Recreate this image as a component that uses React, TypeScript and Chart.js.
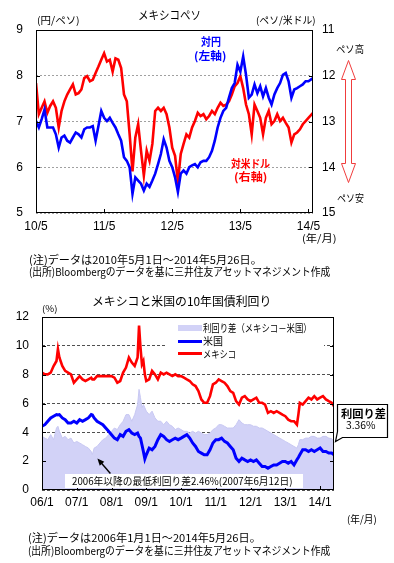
import React, { useEffect, useLayoutEffect, useRef, useState } from "react";
import { Chart, registerables } from "chart.js";
Chart.register(...registerables);

const JP = "'Noto Sans CJK JP', 'Noto Sans', sans-serif";
const TICK_FONT = { family: "'Liberation Sans', 'DejaVu Sans', sans-serif", size: 12 };

// ---------- Chart 1: Mexican peso (months since 2010/5) ----------
const pesoMonths = [0,0.5,1,1.5,2,2.5,3,3.5,4,4.5,5,5.5,6,6.5,7,7.5,8,8.5,9,9.5,10,10.5,11,11.5,12,12.5,13,13.5,14,14.5,15,15.5,16,16.5,17,17.5,18,18.5,19,19.5,20,20.5,21,21.5,22,22.5,23,23.5,24,24.5,25,25.5,26,26.5,27,27.5,28,28.5,29,29.5,30,30.5,31,31.5,32,32.5,33,33.5,34,34.5,35,35.5,36,36.5,37,37.5,38,38.5,39,39.5,40,40.5,41,41.5,42,42.5,43,43.5,44,44.5,45,45.5,46,46.5,47,47.5,48,48.8];
const jpyPerMxn = [
  7.01,6.87,7.05,7.26,6.87,6.87,6.87,6.72,6.43,6.65,
  6.69,6.58,6.54,6.65,6.76,6.72,6.65,6.83,6.87,6.87,
  6.90,6.58,6.90,7.23,7.08,7.01,7.08,6.97,6.87,6.72,
  6.58,6.22,6.14,6.00,5.42,5.78,5.71,5.64,5.49,5.64,
  5.57,5.71,5.86,6.07,6.29,6.61,6.43,6.14,6.00,5.78,
  5.46,5.86,5.93,5.86,6.00,6.04,6.07,6.00,6.11,6.14,
  6.14,6.22,6.36,6.58,6.87,7.08,7.23,7.30,7.52,7.73,
  7.84,8.24,8.09,8.42,8.02,7.52,7.59,7.81,7.62,7.77,
  7.55,7.73,7.52,7.37,7.59,7.73,7.84,8.02,8.06,7.88,
  7.52,7.70,7.73,7.77,7.81,7.88,7.88,7.95];
const mxnPerUsd = [
  12.16,12.84,12.70,12.56,12.81,12.66,12.56,12.70,13.13,12.77,
  12.56,12.41,12.30,12.19,12.41,12.38,12.30,12.05,12.01,12.12,
  12.09,11.94,11.80,11.65,11.51,11.69,11.65,11.91,11.62,11.65,
  11.83,12.41,12.56,13.28,14.09,13.35,13.06,13.64,14.18,13.64,
  13.86,13.49,12.77,12.70,12.77,12.70,12.84,13.13,13.57,13.75,
  14.32,13.71,13.49,13.28,13.35,13.13,12.99,12.81,12.88,12.84,
  12.95,12.88,12.77,12.84,12.70,12.59,12.66,12.63,12.56,12.41,
  12.23,12.16,12.01,12.27,12.63,12.84,13.28,12.63,12.77,12.92,
  13.28,12.92,12.77,13.06,12.99,12.84,12.99,12.92,13.03,13.13,
  13.46,13.28,13.24,13.17,13.06,12.99,12.92,12.81];
const pesoTickMonths = [0, 12, 24, 36, 48];
const pesoTickLabels = ["10/5", "11/5", "12/5", "13/5", "14/5"];

// ---------- Chart 2: 10y yields (months since 2006/1) ----------
const yieldMonths = [0,1,2,3,4,5,5.5,6,7,8,9,10,11,12,13,14,15,16,17,17.4,18,19,20,21,22,23,24,25,26,27,28,29,30,31,32,33,33.5,34,34.5,35,35.5,36,37,38,39,40,41,42,43,44,45,46,47,48,49,50,51,52,53,54,55,56,57,58,59,60,61,62,63,64,65,66,67,68,69,70,71,72,73,74,75,76,77,78,79,80,81,82,83,84,85,86,87,88,88.5,89,90,91,92,93,94,95,96,97,98,99,100,100.8];
const mexicoYield = [
  8.14,8.02,8.02,8.14,8.60,8.95,
  9.77,
  9.19,8.60,8.26,8.14,8.02,7.44,7.67,7.90,7.67,7.56,7.67,7.79,
  7.67,
  7.67,7.90,7.90,7.90,7.90,7.90,7.90,7.79,7.44,7.56,8.14,8.49,9.19,8.84,8.60,9.19,
  11.40,9.88,8.72,8.95,8.02,
  7.56,7.67,8.26,8.02,7.67,8.14,8.02,8.14,8.02,7.90,
  8.02,7.90,7.90,7.79,7.67,7.56,7.33,7.21,6.86,6.28,
  6.05,6.05,6.51,7.33,7.44,7.67,7.56,7.44,7.21,6.86,
  6.74,6.16,5.93,6.40,6.51,6.28,6.16,6.28,6.40,6.05,
  6.05,5.93,5.35,5.47,5.35,5.47,5.35,5.23,5.12,4.88,
  4.77,4.77,4.53,
  5.23,
  6.05,5.93,6.16,6.40,6.28,6.51,6.28,6.40,6.51,6.28,6.16,6.05,
  5.81];
const usYield = [
  4.42,4.53,4.77,5.00,5.12,5.23,
  5.20,
  5.23,5.00,4.88,4.65,4.65,4.77,4.65,4.88,4.77,4.88,5.00,5.23,
  5.20,
  5.00,4.77,4.65,4.53,4.30,4.07,3.84,3.60,3.49,3.84,3.72,4.07,4.19,3.95,3.84,3.95,
  3.72,3.60,3.14,2.67,2.16,
  2.44,2.91,2.79,3.02,3.49,3.84,3.72,3.49,3.37,3.49,
  3.60,3.49,3.60,3.72,3.84,3.60,3.26,3.02,2.67,2.56,
  2.44,2.44,2.79,3.26,3.49,3.49,3.60,3.37,3.26,3.02,
  2.79,2.21,1.98,2.21,2.09,1.98,2.09,1.98,2.09,1.86,
  1.63,1.63,1.51,1.63,1.74,1.74,1.86,1.98,1.98,1.86,
  1.98,1.74,2.09,
  2.26,
  2.44,2.79,2.79,2.67,2.79,2.67,2.79,2.91,2.67,2.67,2.56,2.56,
  2.44];
const spreadYield = [
  3.72,3.60,3.49,3.84,3.49,4.30,
  4.42,
  4.07,3.60,3.72,3.49,3.60,3.26,3.37,3.26,3.14,3.02,2.91,2.67,
  2.46,
  2.91,3.02,3.26,3.49,3.60,3.84,4.07,4.30,4.19,4.53,4.77,5.23,5.23,4.77,5.23,5.93,
  6.98,6.40,5.70,5.93,5.70,
  5.47,5.23,5.47,5.00,4.77,4.77,4.53,4.77,4.53,4.42,
  4.19,4.30,4.19,4.07,4.07,3.95,4.07,3.95,4.07,3.95,
  3.84,3.84,3.95,4.19,4.30,4.53,4.53,4.42,4.30,4.30,
  4.30,4.53,4.88,4.65,4.53,4.53,4.53,4.42,4.42,4.30,
  4.30,4.19,4.07,3.95,3.84,3.72,3.60,3.49,3.37,3.26,
  3.14,3.02,2.91,
  3.14,
  3.49,3.49,3.60,3.60,3.72,3.72,3.60,3.60,3.72,3.72,3.60,3.56,
  3.36];
const yieldTickMonths = [0, 12, 24, 36, 48, 60, 72, 84, 96];
const yieldTickLabels = ["06/1", "07/1", "08/1", "09/1", "10/1", "11/1", "12/1", "13/1", "14/1"];

const labelFor = (months: number[], labels: string[]) => (v: any) => {
  const i = months.indexOf(Number(v));
  return i >= 0 ? labels[i] : "";
};
const pts = (xs: number[], ys: number[]) => xs.map((x, i) => ({ x, y: ys[i] }));

function PesoChart() {
  const ref = useRef<HTMLCanvasElement>(null);
  useEffect(() => {
    const frame = {
      id: "frame1",
      afterDraw(chart: any) {
        const { ctx, chartArea: a, scales } = chart;
        ctx.save();
        ctx.strokeStyle = "#000";
        ctx.lineWidth = 1;
        ctx.strokeRect(a.left + 0.5, a.top + 0.5, a.right - a.left - 1, a.bottom - a.top - 1);
        ctx.beginPath();
        for (const v of [6, 7, 8]) {
          const y = Math.round(scales.yL.getPixelForValue(v)) + 0.5;
          ctx.moveTo(a.left, y); ctx.lineTo(a.left + 4, y);
        }
        for (const v of [12, 13, 14]) {
          const y = Math.round(scales.yR.getPixelForValue(v)) + 0.5;
          ctx.moveTo(a.right - 4, y); ctx.lineTo(a.right, y);
        }
        for (const m of pesoTickMonths.slice(1)) {
          const x = Math.round(scales.x.getPixelForValue(m)) + 0.5;
          ctx.moveTo(x, a.bottom); ctx.lineTo(x, a.bottom - 4);
        }
        ctx.stroke();
        ctx.restore();
      },
    };
    const chart = new Chart(ref.current as HTMLCanvasElement, {
      type: "line",
      data: {
        datasets: [
          { label: "対円", data: pts(pesoMonths, jpyPerMxn), yAxisID: "yL", borderColor: "#0000ff", borderWidth: 2.6, pointRadius: 0, tension: 0, fill: false },
          { label: "対米ドル", data: pts(pesoMonths, mxnPerUsd), yAxisID: "yR", borderColor: "#ff0000", borderWidth: 2.6, pointRadius: 0, tension: 0, fill: false },
        ],
      },
      options: {
        animation: false,
        responsive: false,
        maintainAspectRatio: false,
        devicePixelRatio: 1,
        layout: { padding: { top: 30, left: 0, right: 0, bottom: 0 } },
        plugins: { legend: { display: false }, tooltip: { enabled: false } },
        scales: {
          x: {
            type: "linear", min: 0, max: 48.8,
            afterBuildTicks: (s: any) => { s.ticks = pesoTickMonths.map((v) => ({ value: v })); },
            afterFit: (s: any) => { s.height = 37; },
            ticks: { autoSkip: false, maxRotation: 0, padding: 6, color: "#000", font: TICK_FONT, callback: labelFor(pesoTickMonths, pesoTickLabels) },
            grid: { display: false, drawTicks: false },
            border: { display: false },
          },
          yL: {
            type: "linear", position: "left", min: 5, max: 9,
            afterFit: (s: any) => { s.width = 36; },
            ticks: { stepSize: 1, padding: 13, color: "#000", font: TICK_FONT },
            grid: { color: "#a0a0a0", lineWidth: 1, drawTicks: false },
            border: { display: false, dash: [2, 2] },
          },
          yR: {
            type: "linear", position: "right", min: 11, max: 15, reverse: true,
            afterFit: (s: any) => { s.width = 81; },
            ticks: { stepSize: 1, padding: 9, color: "#000", font: TICK_FONT },
            grid: { display: false, drawTicks: false },
            border: { display: false },
          },
        },
      } as any,
      plugins: [frame],
    });
    return () => chart.destroy();
  }, []);
  return <canvas ref={ref} width={394} height={250} style={{ position: "absolute", left: 0, top: 0, width: 394, height: 250 }} />;
}

function YieldChart() {
  const ref = useRef<HTMLCanvasElement>(null);
  useEffect(() => {
    const deco = {
      id: "deco2",
      afterDraw(chart: any) {
        const { ctx, chartArea: a, scales } = chart;
        const xs = scales.x, ys = scales.y;
        ctx.save();
        ctx.strokeStyle = "#000";
        ctx.lineWidth = 1;
        ctx.strokeRect(a.left + 0.5, a.top + 0.5, a.right - a.left - 1, a.bottom - a.top - 1);
        ctx.beginPath();
        for (const v of [2, 4, 6, 8, 10]) {
          const y = Math.round(ys.getPixelForValue(v)) + 0.5;
          ctx.moveTo(a.left, y); ctx.lineTo(a.left + 4, y);
          ctx.moveTo(a.right - 4, y); ctx.lineTo(a.right, y);
        }
        for (const m of yieldTickMonths.slice(1)) {
          const x = Math.round(xs.getPixelForValue(m)) + 0.5;
          ctx.moveTo(x, a.bottom); ctx.lineTo(x, a.bottom - 4);
        }
        ctx.stroke();

        // callout for the latest spread
        const n = yieldMonths.length - 1;
        const px = xs.getPixelForValue(yieldMonths[n]);
        const py = ys.getPixelForValue(spreadYield[n]);
        const bl = Math.round(a.right + 3) + 0.5;
        const br = bl + 50;
        const bb = Math.round(py - 5) + 0.5;
        const bt = bb - 33;
        ctx.beginPath();
        ctx.moveTo(bl, bt); ctx.lineTo(br, bt); ctx.lineTo(br, bb); ctx.lineTo(bl + 5, bb);
        ctx.lineTo(px + 1.5, py); ctx.lineTo(bl, bb - 6); ctx.closePath();
        ctx.fillStyle = "#fff"; ctx.fill();
        ctx.lineWidth = 1.2; ctx.strokeStyle = "#000"; ctx.stroke();

        // arrow to the lowest spread
        const low = Math.min(...spreadYield);
        const iMin = spreadYield.indexOf(low);
        const ax = xs.getPixelForValue(yieldMonths[iMin]) + 5;
        const ay = ys.getPixelForValue(low) + 4;
        const tx = ax + 13, ty = ay + 15;
        const ang = Math.atan2(ay - ty, ax - tx);
        ctx.beginPath();
        ctx.moveTo(tx, ty); ctx.lineTo(ax - 5 * Math.cos(ang), ay - 5 * Math.sin(ang));
        ctx.lineWidth = 1.4; ctx.stroke();
        ctx.beginPath();
        ctx.moveTo(ax, ay);
        ctx.lineTo(ax - 7 * Math.cos(ang) + 3 * Math.sin(ang), ay - 7 * Math.sin(ang) - 3 * Math.cos(ang));
        ctx.lineTo(ax - 7 * Math.cos(ang) - 3 * Math.sin(ang), ay - 7 * Math.sin(ang) + 3 * Math.cos(ang));
        ctx.closePath();
        ctx.fillStyle = "#000"; ctx.fill();
        ctx.restore();
      },
    };
    const chart = new Chart(ref.current as HTMLCanvasElement, {
      type: "line",
      data: {
        datasets: [
          { label: "メキシコ", data: pts(yieldMonths, mexicoYield), borderColor: "#ff0000", borderWidth: 2.6, pointRadius: 0, tension: 0, fill: false, order: 1 },
          { label: "米国", data: pts(yieldMonths, usYield), borderColor: "#0000ff", borderWidth: 3, pointRadius: 0, tension: 0, fill: false, order: 2 },
          { label: "利回り差（メキシコ－米国）", data: pts(yieldMonths, spreadYield), borderColor: "#c8c8f2", backgroundColor: "#d2d2f7", borderWidth: 1, pointRadius: 0, tension: 0, fill: "origin", order: 3 },
        ],
      },
      options: {
        animation: false,
        responsive: false,
        maintainAspectRatio: false,
        devicePixelRatio: 1,
        layout: { padding: { top: 37, left: 0, right: 60, bottom: 0 } },
        plugins: { legend: { display: false }, tooltip: { enabled: false } },
        scales: {
          x: {
            type: "linear", min: 0, max: 100.8,
            afterBuildTicks: (s: any) => { s.ticks = yieldTickMonths.map((v) => ({ value: v })); },
            afterFit: (s: any) => { s.height = 30; },
            ticks: { autoSkip: false, maxRotation: 0, padding: 5, color: "#000", font: TICK_FONT, callback: labelFor(yieldTickMonths, yieldTickLabels) },
            grid: { display: false, drawTicks: false },
            border: { display: false },
          },
          y: {
            type: "linear", position: "left", min: 0, max: 12,
            afterFit: (s: any) => { s.width = 42; },
            ticks: { stepSize: 2, padding: 13, color: "#000", font: TICK_FONT },
            grid: { color: "#505050", lineWidth: 1, drawTicks: false },
            border: { display: false, dash: [3, 2] },
          },
        },
      } as any,
      plugins: [deco],
    });
    return () => chart.destroy();
  }, []);
  return <canvas ref={ref} width={394} height={240} style={{ position: "absolute", left: 0, top: 280, width: 394, height: 240 }} />;
}

type TP = { x: number; y: number; text: string; size?: number; color?: string; bold?: boolean; center?: boolean; w?: number };
function Txt({ x, y, text, size = 11, color = "#000", bold = false, center = false, w }: TP) {
  const ref = useRef<HTMLDivElement>(null);
  const [sx, setSx] = useState(1);
  useLayoutEffect(() => {
    if (!w || !ref.current) return;
    const nat = ref.current.offsetWidth;
    if (nat > 0) setSx(w / nat);
  }, [w, text]);
  const left = w ? (center ? x - w / 2 : x) : x;
  const tx = !w && center ? -50 : 0;
  return (
    <div
      ref={ref}
      style={{
        position: "absolute", left, top: y, whiteSpace: "nowrap", fontSize: size, lineHeight: 1,
        fontWeight: bold ? 700 : 400, color, fontFamily: JP,
        transformOrigin: "0 50%", transform: `translate(${tx}%, -50%) scaleX(${sx})`,
      }}
    >
      {text}
    </div>
  );
}

function Arrows() {
  return (
    <svg width={394} height={250} style={{ position: "absolute", left: 0, top: 0, pointerEvents: "none" }}>
      <polygon
        points="348.5,60.5 355.5,79.5 351.5,79.5 351.5,163.5 355.5,163.5 348.5,182.5 341.5,163.5 345.5,163.5 345.5,79.5 341.5,79.5"
        fill="#fff" stroke="#f03c3c" strokeWidth={1}
      />
    </svg>
  );
}

function Legend2() {
  return (
    <div style={{ position: "absolute", left: 166, top: 318, width: 158, height: 48, background: "#fff" }}>
      <div style={{ position: "absolute", left: 12, top: 7, width: 24, height: 6, background: "#d2d2f7" }} />
      <div style={{ position: "absolute", left: 12, top: 21.5, width: 24, height: 3, background: "#0000ff" }} />
      <div style={{ position: "absolute", left: 12, top: 34, width: 24, height: 3, background: "#ff0000" }} />
    </div>
  );
}

export default function App() {
  return (
    <div style={{ position: "absolute", left: 0, top: 0, width: 394, height: 563, background: "#fff", overflow: "hidden", fontFamily: JP }}>
      <PesoChart />
      <Arrows />
      <Txt x={169.5} y={14.5} text="メキシコペソ" size={12} center w={63} />
      <Txt x={37} y={19.5} text="(円/ペソ)" size={10} w={43} />
      <Txt x={256} y={19.5} text="(ペソ/米ドル)" size={10} w={60} />
      <Txt x={210.7} y={41} text="対円" size={11} bold color="#0000ff" center w={20} />
      <Txt x={210} y={54.5} text="(左軸)" size={11} bold color="#0000ff" center w={32} />
      <Txt x={250.3} y={163} text="対米ドル" size={11} bold color="#ff0000" center w={39} />
      <Txt x={250.3} y={176} text="(右軸)" size={11} bold color="#ff0000" center w={33} />
      <Txt x={349.8} y={49} text="ペソ高" size={10} center w={28} />
      <Txt x={350.5} y={197.5} text="ペソ安" size={10} center w={27} />
      <Txt x={319.5} y={238} text="(年/月)" size={10} center w={35} />
      <Txt x={29} y={258.5} text="(注)データは2010年5月1日～2014年5月26日。" size={11} w={233} />
      <Txt x={29} y={270.5} text="(出所)Bloombergのデータを基に三井住友アセットマネジメント作成" size={11} w={301} />

      <YieldChart />
      <Legend2 />
      <Txt x={92} y={301} text="メキシコと米国の10年国債利回り" size={12} w={179} />
      <Txt x={42} y={308} text="(%)" size={9} w={15} />
      <Txt x={203} y={328} text="利回り差（メキシコ－米国）" size={10.5} w={109} />
      <Txt x={203} y={341} text="米国" size={10.5} w={20} />
      <Txt x={203} y={353.5} text="メキシコ" size={10.5} w={33} />
      <Txt x={363} y={413} text="利回り差" size={11} bold center w={45} />
      <Txt x={361} y={425} text="3.36%" size={10} center w={30} />
      <div style={{ position: "absolute", left: 65, top: 474, width: 238, height: 14, background: "#fff" }} />
      <Txt x={72} y={481} text="2006年以降の最低利回り差2.46%(2007年6月12日)" size={10} w={220} />
      <Txt x={362} y={518.5} text="(年/月)" size={10} center w={30} />
      <Txt x={28} y={537} text="(注)データは2006年1月1日～2014年5月26日。" size={11} w={233} />
      <Txt x={28} y={550} text="(出所)Bloombergのデータを基に三井住友アセットマネジメント作成" size={11} w={302} />
    </div>
  );
}
